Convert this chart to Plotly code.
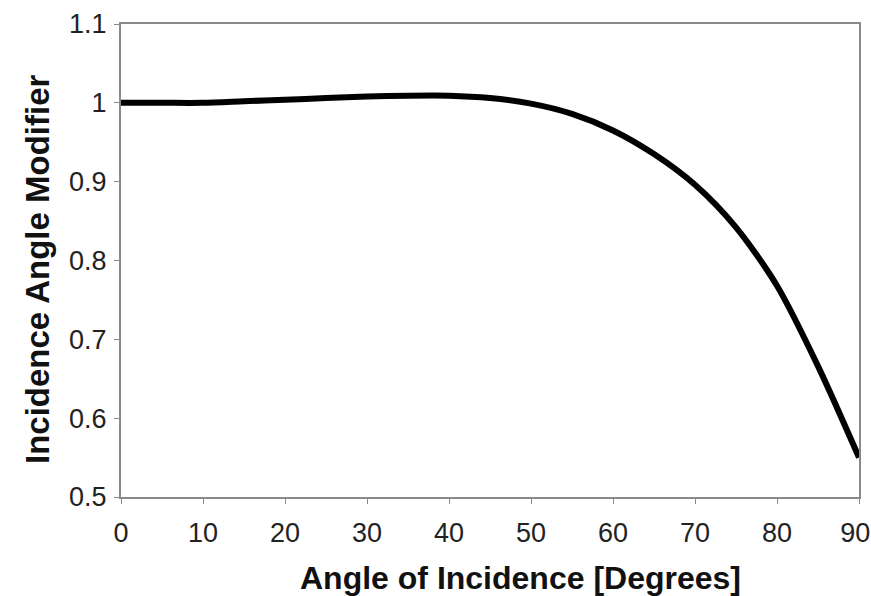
import plotly.graph_objects as go

angle_deg = [0, 5, 10, 15, 20, 25, 30, 35, 40, 45, 50, 55, 60, 65, 70, 75, 80, 85, 90]
iam = [1.000, 1.000, 1.000, 1.002, 1.004, 1.006, 1.008, 1.009, 1.009, 1.006, 0.999,
       0.986, 0.965, 0.935, 0.896, 0.842, 0.768, 0.666, 0.550]

x_ticks = [0, 10, 20, 30, 40, 50, 60, 70, 80, 90]
x_tick_text = ["0", "10", "20", "30", "40", "50", "60", "70", "80", "90&nbsp;"]
y_ticks = [0.5, 0.6, 0.7, 0.8, 0.9, 1.0, 1.1]
y_tick_text = ["0.5", "0.6", "0.7", "0.8", "0.9", "1", "1.1"]

L, R, T, B = 121, 859, 24, 497
W, H = 871, 596

fig = go.Figure()
fig.add_trace(go.Scatter(x=angle_deg, y=iam, mode="lines",
                         line=dict(color="black", width=6, shape="spline", smoothing=0.8),
                         showlegend=False, hoverinfo="skip"))

axis_common = dict(showline=True, linecolor="#8a8a8a", linewidth=2, mirror=True,
                   showgrid=False, zeroline=False, ticks="outside", ticklen=5,
                   tickcolor="#8a8a8a", tickwidth=1, automargin=False,
                   ticklabeloverflow="allow",
                   tickfont=dict(family="Liberation Sans, Arial", size=27, color="#222"))

fig.update_xaxes(range=[0, 90], tickvals=x_ticks, ticktext=x_tick_text,
                 ticklabelstandoff=6, **axis_common)
fig.update_yaxes(range=[0.5, 1.1], tickvals=y_ticks, ticktext=y_tick_text,
                 ticklabelstandoff=2, **axis_common)

fig.update_layout(
    width=W, height=H,
    margin=dict(l=L, r=W - R, t=T, b=H - B, autoexpand=False),
    plot_bgcolor="white", paper_bgcolor="white",
    annotations=[
        dict(text="<b>Angle of Incidence [Degrees]</b>", xref="paper", yref="paper",
             x=(520 - L) / (R - L), y=-(578 - B) / (B - T),
             xanchor="center", yanchor="middle", showarrow=False,
             font=dict(family="Liberation Sans, Arial", size=32, color="#111")),
        dict(text="<b>Incidence Angle Modifier</b>", xref="paper", yref="paper",
             x=-(L - 37) / (R - L), y=(B - 270) / (B - T),
             xanchor="center", yanchor="middle", showarrow=False, textangle=-90,
             font=dict(family="Liberation Sans, Arial", size=33, color="#111")),
    ],
)

fig.write_html("out.html", config={"displayModeBar": False},
               post_script="document.body.style.margin='0';document.body.style.overflow='hidden';")
